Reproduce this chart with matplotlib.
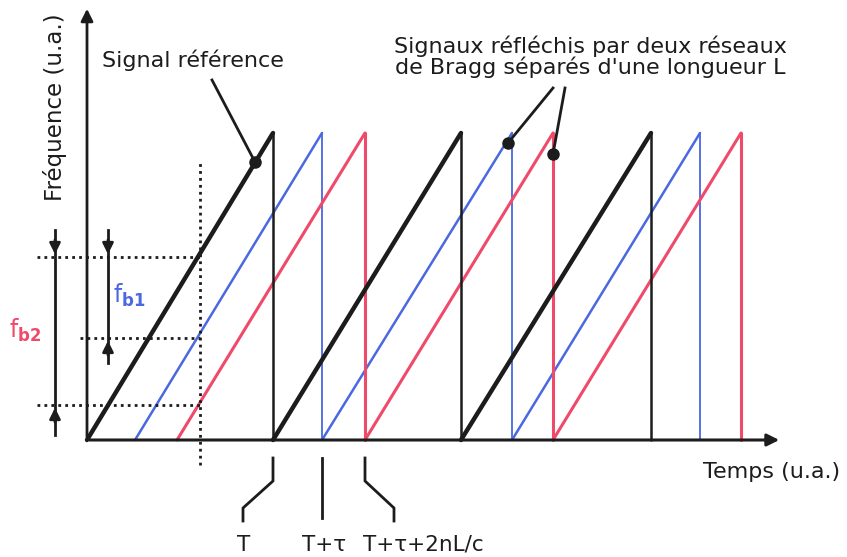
import matplotlib
matplotlib.use("Agg")
import matplotlib.pyplot as plt

# Sawtooth vertices (time, frequency) in arbitrary units
ref_t = [0, 186, 186, 374, 374, 564, 564]
ref_f = [0, 307, 0, 307, 0, 307, 0]
b1_t = [48, 235, 235, 425, 425, 613, 613]
b1_f = [0, 307, 0, 307, 0, 307, 0]
b2_t = [90, 278, 278, 466, 466, 654, 654]
b2_f = [0, 307, 0, 307, 0, 307, 0]

# beat-frequency measurement markers
t_meas = 113
f_ref_meas = 183
f_b1_meas = 102
f_b2_meas = 35

tick_times = [186, 235, 278]
tick_labels = ["T", "T+\u03c4", "T+\u03c4+2nL/c"]

BLACK = "#1c1c1c"
BLUE = "#4a68e0"
RED = "#f04a6a"

plt.rcParams["font.family"] = ["DejaVu Sans"]

fig = plt.figure(figsize=(8.47, 5.57), dpi=100)
ax = fig.add_axes([0, 0, 1, 1])
ax.set_xlim(-87, 760)
ax.set_ylim(-117, 440)
ax.axis("off")


def draw_saw(t, f, color, lw_ramp, lw_drop):
    for i in range(len(t) - 1):
        lw = lw_ramp if i % 2 == 0 else lw_drop
        ax.plot([t[i], t[i + 1]], [f[i], f[i + 1]], color=color, lw=lw,
                solid_capstyle="round")


# signals
draw_saw(b1_t, b1_f, BLUE, 1.8, 1.3)
draw_saw(b2_t, b2_f, RED, 2.2, 2.2)
draw_saw(ref_t, ref_f, BLACK, 3.2, 1.8)

# axes with arrows
ax.annotate("", xy=(0, 434), xytext=(0, 0),
            arrowprops=dict(arrowstyle="-|>", color=BLACK, lw=2, mutation_scale=18))
ax.annotate("", xy=(695, 0), xytext=(0, 0),
            arrowprops=dict(arrowstyle="-|>", color=BLACK, lw=2.2, mutation_scale=18))

# dotted guide lines
dot = (0, (1, 1.5))
ax.plot([t_meas, t_meas], [-25, 280], color=BLACK, lw=2, ls=dot)
ax.plot([-50, t_meas], [f_ref_meas, f_ref_meas], color=BLACK, lw=2, ls=dot)
ax.plot([-7, t_meas], [f_b1_meas, f_b1_meas], color=BLACK, lw=2, ls=dot)
ax.plot([-50, t_meas], [f_b2_meas, f_b2_meas], color=BLACK, lw=2, ls=dot)

# fb2 arrow bar
x2 = -32
ax.plot([x2, x2], [5, 210], color=BLACK, lw=2)
ax.annotate("", xy=(x2, f_ref_meas), xytext=(x2, f_ref_meas + 20),
            arrowprops=dict(arrowstyle="-|>", color=BLACK, lw=2, mutation_scale=16))
ax.annotate("", xy=(x2, f_b2_meas), xytext=(x2, f_b2_meas - 20),
            arrowprops=dict(arrowstyle="-|>", color=BLACK, lw=2, mutation_scale=16))
# fb1 arrow bar
x1 = 21
ax.plot([x1, x1], [77, 210], color=BLACK, lw=2)
ax.annotate("", xy=(x1, f_ref_meas), xytext=(x1, f_ref_meas + 20),
            arrowprops=dict(arrowstyle="-|>", color=BLACK, lw=2, mutation_scale=16))
ax.annotate("", xy=(x1, f_b1_meas), xytext=(x1, f_b1_meas - 20),
            arrowprops=dict(arrowstyle="-|>", color=BLACK, lw=2, mutation_scale=16))

ax.text(-62, 110, r"$\mathregular{f}_{\mathbf{b2}}$", color=RED, fontsize=17,
        ha="center", va="center")
ax.text(42, 145, r"$\mathregular{f}_{\mathbf{b1}}$", color=BLUE, fontsize=17,
        ha="center", va="center")

# axis labels
ax.text(-32, 333, "Fréquence (u.a.)", rotation=90, fontsize=16.5, ha="center",
        va="center", color=BLACK)
ax.text(685, -32, "Temps (u.a.)", fontsize=16, ha="center", va="center", color=BLACK)

# annotations
ax.text(106, 380, "Signal référence", fontsize=16, ha="center", va="center", color=BLACK)
ax.plot([125, 168], [360, 278], color=BLACK, lw=2)
ax.plot([168], [278], "o", color=BLACK, ms=8)

ax.text(503, 383, "Signaux réfléchis par deux réseaux\nde Bragg séparés d'une longueur L",
        fontsize=16, ha="center", va="center", color=BLACK, linespacing=1.0)
ax.plot([466, 421], [352, 297], color=BLACK, lw=2)
ax.plot([421], [297], "o", color=BLACK, ms=8)
ax.plot([478, 466], [352, 286], color=BLACK, lw=2)
ax.plot([466], [286], "o", color=BLACK, ms=8)

# time markers below the axis
ax.plot([tick_times[0], tick_times[0], 156, 156], [-18, -41, -68, -81], color=BLACK, lw=2)
ax.plot([tick_times[1], tick_times[1]], [-18, -78], color=BLACK, lw=2)
ax.plot([tick_times[2], tick_times[2], 307, 307], [-18, -41, -68, -81], color=BLACK, lw=2)
ax.text(157, -105, tick_labels[0], fontsize=15.5, ha="center", va="center", color=BLACK)
ax.text(237, -105, tick_labels[1], fontsize=15.5, ha="center", va="center", color=BLACK)
ax.text(336, -105, tick_labels[2], fontsize=15.5, ha="center", va="center", color=BLACK)

fig.savefig("out.png", dpi=100)
